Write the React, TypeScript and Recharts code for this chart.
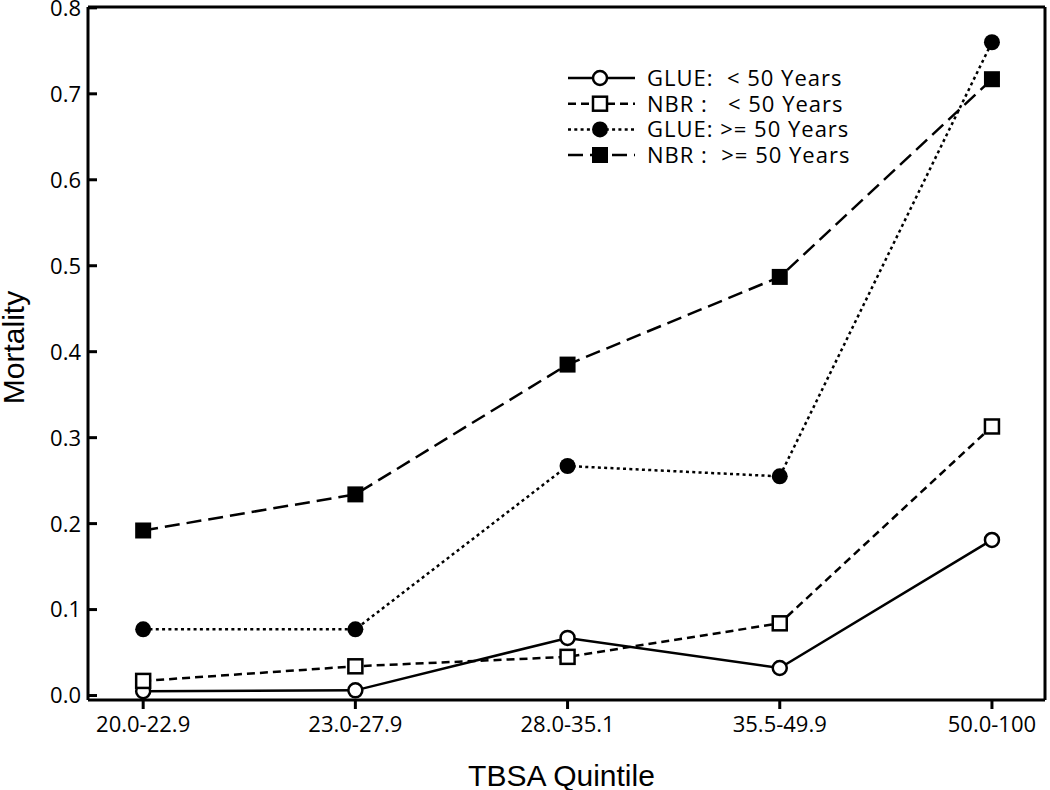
import { Label, Line, LineChart, ReferenceLine, XAxis, YAxis } from 'recharts';

const categories = ['20.0-22.9', '23.0-27.9', '28.0-35.1', '35.5-49.9', '50.0-100'];
const glueUnder50 = [0.005, 0.006, 0.067, 0.032, 0.181];
const nbrUnder50 = [0.017, 0.034, 0.045, 0.084, 0.313];
const glueOver50 = [0.077, 0.077, 0.267, 0.255, 0.76];
const nbrOver50 = [0.192, 0.234, 0.385, 0.487, 0.717];
const yTicks = [0, 0.1, 0.2, 0.3, 0.4, 0.5, 0.6, 0.7, 0.8];
const xTicks = [0, 1, 2, 3, 4];

const data = categories.map((label, i) => ({
  idx: i,
  label,
  glueUnder50: glueUnder50[i],
  nbrUnder50: nbrUnder50[i],
  glueOver50: glueOver50[i],
  nbrOver50: nbrOver50[i],
}));

const TICK_FONT = '"Open Sans", sans-serif';
const TITLE_FONT = '"Liberation Sans", Arial, sans-serif';
const xDomain = [-0.26, 4.25];
const yDomain = [-0.0052, 0.801];
const axisStroke = { stroke: '#000', strokeWidth: 3 };

type Marker = 'openCircle' | 'openSquare' | 'filledCircle' | 'filledSquare';

const series: { key: string; name: string; dash: string; marker: Marker }[] = [
  { key: 'glueUnder50', name: 'GLUE:  < 50 Years', dash: '', marker: 'openCircle' },
  { key: 'nbrUnder50', name: 'NBR :   < 50 Years', dash: '8 5', marker: 'openSquare' },
  { key: 'glueOver50', name: 'GLUE: >= 50 Years', dash: '3 3.3', marker: 'filledCircle' },
  { key: 'nbrOver50', name: 'NBR :  >= 50 Years', dash: '15 7', marker: 'filledSquare' },
];

function MarkerShape({ kind, cx, cy }: { kind: Marker; cx: number; cy: number }) {
  if (kind === 'openCircle')
    return <circle cx={cx} cy={cy} r={7} fill="#fff" stroke="#000" strokeWidth={2.5} strokeDasharray="none" />;
  if (kind === 'filledCircle') return <circle cx={cx} cy={cy} r={8} fill="#000" stroke="none" />;
  if (kind === 'openSquare')
    return (
      <rect x={cx - 7} y={cy - 7} width={14} height={14} fill="#fff" stroke="#000" strokeWidth={2.5} strokeDasharray="none" />
    );
  return <rect x={cx - 8} y={cy - 8} width={16} height={16} fill="#000" stroke="none" />;
}

function makeDot(kind: Marker) {
  return (props: any) => {
    const { cx, cy, index } = props;
    if (cx == null || cy == null) return <g key={index} />;
    return (
      <g key={index}>
        <MarkerShape kind={kind} cx={cx} cy={cy} />
      </g>
    );
  };
}

function YTick({ x, y, payload }: any) {
  return (
    <g>
      <line x1={x + 7} x2={x + 16} y1={y} y2={y} stroke="#000" strokeWidth={3} />
      <text x={x} y={y} dy="0.36em" textAnchor="end" fontFamily={TICK_FONT} fontSize={22} fill="#000">
        {Number(payload.value).toFixed(1)}
      </text>
    </g>
  );
}

// legend sits inside the plot, top right, like the original
function LegendBox() {
  const rowY = [16, 41.7, 67.4, 93];
  return (
    <svg width={330} height={110} style={{ display: 'block' }}>
      {series.map((s, i) => (
        <g key={s.key}>
          <line
            x1={8}
            x2={75}
            y1={rowY[i]}
            y2={rowY[i]}
            stroke="#000"
            strokeWidth={2.5}
            strokeDasharray={s.dash || undefined}
          />
          <MarkerShape kind={s.marker} cx={40} cy={rowY[i]} />
          <text
            x={87}
            y={rowY[i]}
            dy="0.36em"
            fontFamily={TICK_FONT}
            fontSize={22}
            letterSpacing={1}
            fill="#000"
            style={{ whiteSpace: 'pre' }}
          >
            {s.name}
          </text>
        </g>
      ))}
    </svg>
  );
}

export default function App() {
  return (
    <div style={{ position: 'absolute', left: 0, top: 0, width: 1050, height: 790, background: '#fff' }}>
      <LineChart width={1050} height={790} data={data} margin={{ top: 7, right: 5, left: 0, bottom: 0 }}>
        <XAxis
          dataKey="idx"
          type="number"
          domain={xDomain}
          allowDataOverflow
          ticks={xTicks}
          interval={0}
          tickFormatter={(v) => categories[v]}
          height={90}
          tickSize={9}
          tickMargin={7}
          tickLine={axisStroke}
          axisLine={axisStroke}
          tick={{ fill: '#000', fontSize: 22, fontFamily: TICK_FONT }}
        >
          <Label
            content={({ viewBox }: any) => (
              <text
                x={viewBox.x + viewBox.width / 2 - 5}
                y={viewBox.y + 86}
                textAnchor="middle"
                fontFamily={TITLE_FONT}
                fontSize={30}
                fill="#000"
              >
                TBSA Quintile
              </text>
            )}
          />
        </XAxis>
        <YAxis
          type="number"
          domain={yDomain}
          allowDataOverflow
          ticks={yTicks}
          interval={0}
          width={88}
          tickSize={0}
          tickMargin={7}
          tickLine={false}
          axisLine={axisStroke}
          tick={<YTick />}
        >
          <Label
            content={({ viewBox }: any) => {
              const cx = viewBox.x + 24;
              const cy = viewBox.y + viewBox.height / 2 - 6;
              return (
                <text
                  x={cx}
                  y={cy}
                  transform={`rotate(-90 ${cx} ${cy})`}
                  textAnchor="middle"
                  fontFamily={TITLE_FONT}
                  fontSize={30}
                  fill="#000"
                >
                  Mortality
                </text>
              );
            }}
          />
        </YAxis>
        {/* frame: top and right edges */}
        <ReferenceLine y={yDomain[1]} stroke="#000" strokeWidth={3} ifOverflow="visible" />
        <ReferenceLine x={xDomain[1]} stroke="#000" strokeWidth={3} ifOverflow="visible" />
        {series.map((s) => (
          <Line
            key={s.key}
            dataKey={s.key}
            name={s.name}
            type="linear"
            stroke="#000"
            strokeWidth={2.5}
            strokeDasharray={s.dash || undefined}
            dot={makeDot(s.marker)}
            activeDot={false}
            isAnimationActive={false}
          />
        ))}
      </LineChart>
      <div style={{ position: 'absolute', left: 560, top: 62 }}>
        <LegendBox />
      </div>
    </div>
  );
}
